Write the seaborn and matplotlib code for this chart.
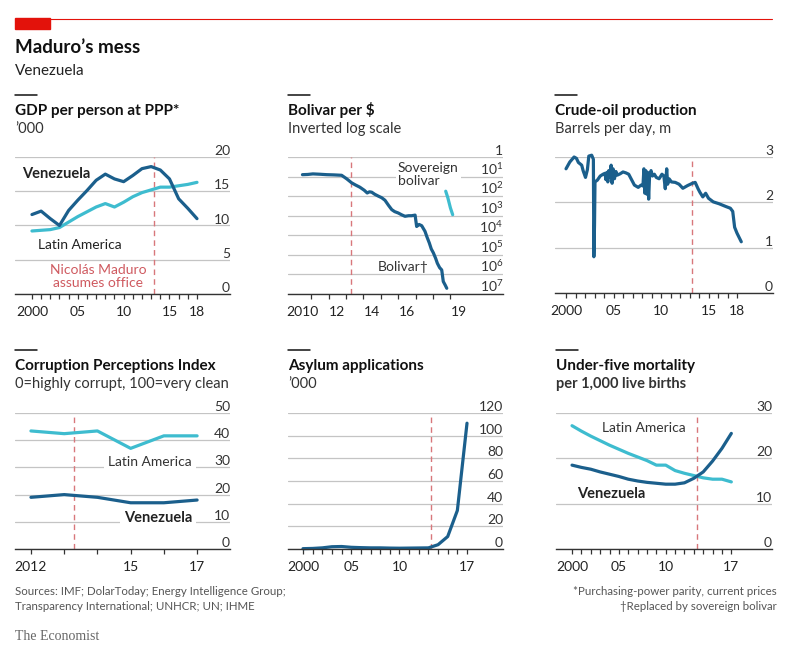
import matplotlib
matplotlib.use("Agg")
import matplotlib.pyplot as plt
from matplotlib.lines import Line2D
from matplotlib.patches import Rectangle
from matplotlib.ticker import NullLocator
import seaborn as sns

# ---- data ----
gdp_years = list(range(2000, 2019))
gdp_venezuela = [11.6, 12.1, 11.0, 10.0, 12.2, 13.7, 15.1, 16.6, 17.5, 16.8,
                 16.4, 17.3, 18.3, 18.6, 18.1, 16.8, 13.9, 12.5, 11.0]
gdp_latam = [9.2, 9.3, 9.4, 9.7, 10.5, 11.3, 12.0, 12.7, 13.2, 12.7,
             13.4, 14.2, 14.8, 15.2, 15.6, 15.6, 15.8, 16.0, 16.3]

bolivar_dates = [2010.5, 2010.8, 2011.1, 2011.5, 2011.9, 2012.3, 2012.75, 2013.04,
                 2013.33, 2013.55, 2013.8, 2014.05, 2014.22, 2014.35, 2014.48, 2014.65,
                 2014.86, 2015.05, 2015.24, 2015.45, 2015.63, 2015.8, 2016.0, 2016.2,
                 2016.39, 2016.6, 2016.77, 2016.97, 2017.06, 2017.2, 2017.35, 2017.54,
                 2017.65, 2017.79, 2017.9, 2018.02, 2018.15, 2018.25, 2018.38, 2018.5,
                 2018.59, 2018.7, 2018.79]
bolivar_rate = [8.0, 7.8, 7.3, 7.6, 8.0, 8.2, 8.6, 13, 21, 27, 35, 50, 69, 60, 63, 80,
                100, 120, 162, 300, 490, 620, 724, 900, 1070, 1000, 1000, 933, 3550,
                2800, 3240, 6300, 12000, 25000, 50000, 79000, 150000, 270000, 450000,
                590000, 2300000, 3500000, 5100000]
sovereign_dates = [2018.73, 2018.85, 2019.0, 2019.13]
sovereign_rate = [56, 120, 400, 890]

oil_dates = [2000.0, 2000.4, 2000.85, 2001.1, 2001.3, 2001.65, 2001.8, 2002.05, 2002.25,
             2002.4, 2002.7, 2002.88, 2002.93, 2003.0, 2003.05, 2003.3, 2003.6, 2003.9,
             2004.1, 2004.2, 2004.3, 2004.4, 2004.5, 2004.6, 2004.75, 2004.85, 2004.95,
             2005.1, 2005.25, 2005.4, 2005.7, 2006.0, 2006.3, 2006.6, 2006.85, 2007.2,
             2007.6, 2007.9, 2008.1, 2008.2, 2008.3, 2008.4, 2008.5, 2008.6, 2008.7,
             2008.8, 2008.95, 2009.1, 2009.3, 2009.5, 2009.8, 2010.1, 2010.3, 2010.45,
             2010.6, 2010.7, 2010.85, 2011.1, 2011.5, 2011.9, 2012.3, 2012.8, 2013.3,
             2013.6, 2013.9, 2014.1, 2014.4, 2014.7, 2015.0, 2015.5, 2016.1, 2016.8,
             2017.3, 2017.55, 2017.75, 2018.0, 2018.45]
oil_mbd = [2.74, 2.89, 3.0, 2.97, 2.88, 2.82, 2.70, 2.55, 2.72,
           3.02, 3.04, 2.95, 0.8, 1.5, 2.45, 2.49, 2.58, 2.62,
           2.64, 2.5, 2.66, 2.45, 2.7, 2.55, 2.82, 2.42, 2.74,
           2.52, 2.68, 2.6, 2.63, 2.67, 2.65, 2.62, 2.52, 2.38,
           2.33, 2.38, 2.36, 2.74, 2.2, 2.7, 2.18, 2.66, 2.07,
           2.6, 2.7, 2.58, 2.62, 2.55, 2.52, 2.62, 2.58, 2.3,
           2.74, 2.4, 2.52, 2.45, 2.44, 2.4, 2.31, 2.37, 2.42,
           2.44, 2.3, 2.22, 2.12, 2.2, 2.09, 2.01, 1.97, 1.91,
           1.87, 1.8, 1.45, 1.32, 1.13]

cpi_years = [2012, 2013, 2014, 2015, 2016, 2017]
cpi_latam = [43.4, 42.4, 43.4, 37.0, 41.6, 41.6]
cpi_venezuela = [19, 20, 19, 17, 17, 18]

asylum_years = list(range(2000, 2018))
asylum_k = [0.3, 0.5, 1.0, 2.0, 2.2, 1.5, 1.2, 1.0, 1.0, 0.8, 0.7, 0.8, 0.9, 1.0,
            3.8, 11, 34, 111]

mort_years = list(range(2000, 2018))
mort_latam = [27.2, 26.0, 24.9, 23.9, 22.9, 22.0, 21.1, 20.3, 19.5, 18.5, 18.5, 17.3,
              16.7, 16.2, 15.7, 15.4, 15.4, 14.8]
mort_venezuela = [18.5, 18.0, 17.6, 17.0, 16.5, 16.0, 15.4, 15.0, 14.7, 14.5, 14.3, 14.3,
                  14.6, 15.6, 17.0, 19.4, 22.2, 25.5]

maduro = 2013.3

DARK = "#1b5f8c"
LIGHT = "#3ebccf"
RED = "#d8777b"
RED_TEXT = "#cf5a60"
GRID = "#c4c4c4"
INK = "#222222"

sns.set_theme(style="white")
plt.rcParams["font.family"] = ["Lato", "DejaVu Sans"]
plt.rcParams["mathtext.fontset"] = "custom"
plt.rcParams["mathtext.rm"] = "Lato"

W, H = 800, 660
fig = plt.figure(figsize=(8, 6.6), dpi=100)


def px_axes(left, top, right, bottom):
    return fig.add_axes([left / W, 1 - bottom / H, (right - left) / W, (bottom - top) / H])


def style(ax, xlim, ylim, yticks, ylabels, xminor, xmajor, xlabels):
    ax.set_xlim(*xlim)
    ax.set_ylim(*ylim)
    ax.set_xlabel("")
    ax.set_ylabel("")
    ax.yaxis.set_minor_locator(NullLocator())
    ax.set_yticks(yticks, ylabels)
    ax.yaxis.tick_right()
    ax.tick_params(axis="y", length=0, pad=0, labelsize=10, labelcolor="#333333")
    plt.setp(ax.get_yticklabels(), ha="right", va="bottom")
    ax.grid(axis="y", which="major", color=GRID, lw=0.9)
    ax.grid(axis="x", visible=False)
    for s in ["left", "right", "top"]:
        ax.spines[s].set_visible(False)
    ax.spines["bottom"].set_color("#333333")
    ax.spines["bottom"].set_linewidth(1.0)
    ax.set_xticks(xminor, minor=True)
    ax.set_xticks(xmajor, xlabels)
    ax.tick_params(axis="x", which="both", direction="out", length=3.6, width=0.9,
                   color="#333333", bottom=True)
    ax.tick_params(axis="x", which="major", pad=5, labelsize=10, labelcolor=INK)
    ax.set_axisbelow(True)


def dashed(ax):
    ax.axvline(maduro, color=RED, lw=1.0, ls=(0, (4, 3)), zorder=1.5)


def line(ax, x, y, color):
    sns.lineplot(x=x, y=y, ax=ax, color=color, lw=2.3, estimator=None, sort=False,
                 clip_on=False)


def header(x, row, title, subtitle, bold_sub=False):
    yl = 95 if row == 0 else 350
    yt = 115 if row == 0 else 370
    ys = 133 if row == 0 else 388
    fig.add_artist(Line2D([x / W, (x + 22) / W], [1 - yl / H] * 2, color="#111111", lw=1.1))
    fig.text(x / W, 1 - yt / H, title, fontsize=11, fontweight="bold", color="#111111",
             va="baseline")
    fig.text(x / W, 1 - ys / H, subtitle, fontsize=10.5, color="#333333", va="baseline",
             fontweight="bold" if bold_sub else "normal")


# ---- GDP per person ----
ax1 = px_axes(15, 157, 230, 294)
line(ax1, gdp_years, gdp_latam, LIGHT)
line(ax1, gdp_years, gdp_venezuela, DARK)
dashed(ax1)
style(ax1, (1998.15, 2021.6), (0, 20), [0, 5, 10, 15, 20], ["0", "5", "10", "15", "20"],
      list(range(2000, 2019)), [2000, 2005, 2010, 2015, 2018], ["2000", "05", "10", "15", "18"])
ax1.text(1998.9, 17.5, "Venezuela", fontsize=10.5, fontweight="bold", color=INK, va="center")
ax1.text(2000.65, 7.2, "Latin America", fontsize=10, color=INK, va="center")
ax1.text(2012.5, 2.5, "Nicolás Maduro\nassumes office", fontsize=10, color=RED_TEXT,
         ha="right", va="center", multialignment="center", linespacing=1.1)
header(15, 0, "GDP per person at PPP*", "’000")

# ---- Bolivar per $ ----
ax2 = px_axes(288, 157, 503, 294)
line(ax2, bolivar_dates, bolivar_rate, DARK)
line(ax2, sovereign_dates, sovereign_rate, LIGHT)
ax2.set_yscale("log")
dashed(ax2)
style(ax2, (2009.67, 2022.02), (1e7, 1), [1, 1e1, 1e2, 1e3, 1e4, 1e5, 1e6, 1e7],
      ["1"] + [r"$\mathregular{10^{%d}}$" % k for k in range(1, 8)],
      list(range(2011, 2020)), [2010.5, 2012.5, 2014.5, 2016.5, 2019.5],
      ["2010", "12", "14", "16", "19"])
ax2.tick_params(axis="x", which="major", length=0, pad=8.5)
ax2.text(2015.99, 7.9, "Sovereign\nbolivar", fontsize=10, color="#333333", va="center",
         linespacing=1.05, bbox=dict(fc="white", ec="none", pad=1.5))
ax2.text(2014.84, 4.4e5, "Bolivar†", fontsize=10, color="#333333", va="center")
header(288, 0, "Bolivar per $", "Inverted log scale")

# ---- Crude-oil production ----
ax3 = px_axes(555, 157, 773, 293)
line(ax3, oil_dates, oil_mbd, DARK)
dashed(ax3)
style(ax3, (1998.84, 2021.79), (0, 3), [0, 1, 2, 3], ["0", "1", "2", "3"],
      list(range(2000, 2019)), [2000, 2005, 2010, 2015, 2018], ["2000", "05", "10", "15", "18"])
header(555, 0, "Crude-oil production", "Barrels per day, m")

# ---- Corruption Perceptions Index ----
ax4 = px_axes(15, 413, 230, 549)
line(ax4, cpi_years, cpi_latam, LIGHT)
line(ax4, cpi_years, cpi_venezuela, DARK)
dashed(ax4)
style(ax4, (2011.52, 2017.99), (0, 50), [0, 10, 20, 30, 40, 50],
      ["0", "10", "20", "30", "40", "50"],
      cpi_years, [2012, 2015, 2017], ["2012", "15", "17"])
ax4.text(2016.85, 32, "Latin America", fontsize=10, color="#333333", ha="right", va="center",
         bbox=dict(fc="white", ec="none", pad=3))
ax4.text(2016.85, 11.4, "Venezuela", fontsize=10.5, fontweight="bold", color=INK, ha="right",
         va="center", bbox=dict(fc="white", ec="none", pad=3))
header(15, 1, "Corruption Perceptions Index", "0=highly corrupt, 100=very clean")

# ---- Asylum applications ----
ax5 = px_axes(288, 413, 503, 549)
line(ax5, asylum_years, asylum_k, DARK)
dashed(ax5)
style(ax5, (1998.45, 2020.73), (0, 120), [0, 20, 40, 60, 80, 100, 120],
      ["0", "20", "40", "60", "80", "100", "120"],
      asylum_years, [2000, 2005, 2010, 2017], ["2000", "05", "10", "17"])
header(288, 1, "Asylum applications", "’000")

# ---- Under-five mortality ----
ax6 = px_axes(556, 413, 772, 549)
line(ax6, mort_years, mort_latam, LIGHT)
line(ax6, mort_years, mort_venezuela, DARK)
dashed(ax6)
style(ax6, (1998.29, 2021.34), (0, 30), [0, 10, 20, 30], ["0", "10", "20", "30"],
      mort_years, [2000, 2005, 2010, 2017], ["2000", "05", "10", "17"])
ax6.text(2003.2, 26.7, "Latin America", fontsize=10, color="#333333", va="center")
ax6.text(2000.53, 12.1, "Venezuela", fontsize=10.5, fontweight="bold", color=INK, va="center")
header(556, 1, "Under-five mortality", "per 1,000 live births", bold_sub=True)

# ---- chart furniture ----
fig.add_artist(Rectangle((15 / W, 1 - 29 / H), 35 / W, 11 / H, color="#e3120b",
                         transform=fig.transFigure))
fig.add_artist(Line2D([50 / W, 772 / W], [1 - 18.5 / H] * 2, color="#e3120b", lw=0.8))
fig.text(15 / W, 1 - 53 / H, "Maduro’s mess", fontsize=13.5, fontweight="bold",
         color="#111111", va="baseline")
fig.text(15 / W, 1 - 75 / H, "Venezuela", fontsize=11, color="#222222", va="baseline")

fig.text(15 / W, 1 - 599 / H,
         "Sources: IMF; DolarToday; Energy Intelligence Group;\n"
         "Transparency International; UNHCR; UN; IHME",
         fontsize=8.3, color="#555555", va="center", linespacing=1.35)
fig.text(777 / W, 1 - 599 / H,
         "*Purchasing-power parity, current prices\n†Replaced by sovereign bolivar",
         fontsize=8.3, color="#555555", va="center", ha="right", multialignment="right",
         linespacing=1.35)
fig.text(15 / W, 1 - 637 / H, "The Economist", fontsize=10, color="#666666", va="center",
         family=["Liberation Serif", "DejaVu Serif"])

fig.savefig("out.png", dpi=100)
